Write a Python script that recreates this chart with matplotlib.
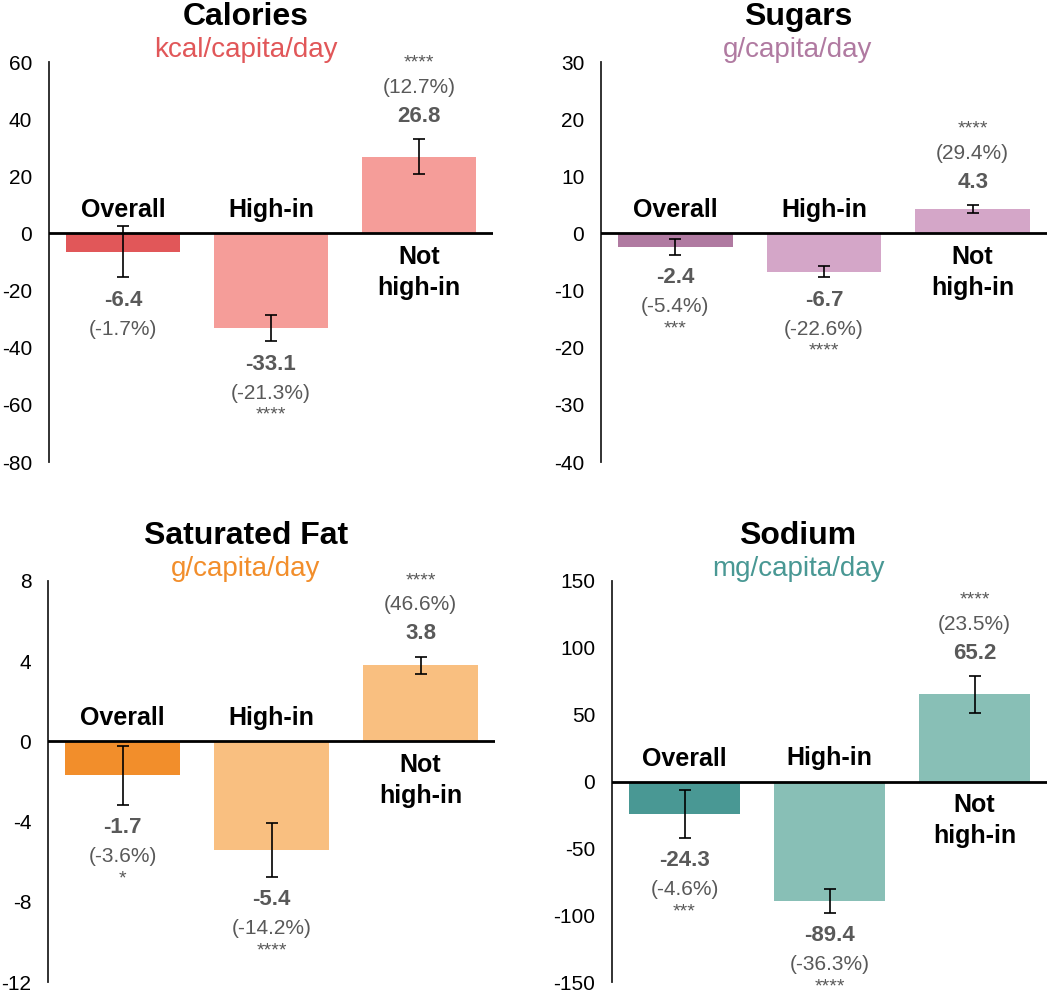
import matplotlib
matplotlib.use("Agg")
import matplotlib.pyplot as plt

plt.rcParams["font.family"] = ["Liberation Sans", "DejaVu Sans"]
plt.rcParams["axes.unicode_minus"] = False

# categories shared by all four panels
groups = ["Overall", "High-in", "Not\nhigh-in"]

# calories
cal_values = [-6.4, -33.1, 26.8]
cal_err = [9.0, 4.6, 6.1]
cal_pct = ["(-1.7%)", "(-21.3%)", "(12.7%)"]
cal_stars = ["", "****", "****"]
cal_ticks = [60, 40, 20, 0, -20, -40, -60, -80]

# sugars
sug_values = [-2.4, -6.7, 4.3]
sug_err = [1.35, 1.0, 0.65]
sug_pct = ["(-5.4%)", "(-22.6%)", "(29.4%)"]
sug_stars = ["***", "****", "****"]
sug_ticks = [30, 20, 10, 0, -10, -20, -30, -40]

# saturated fat
fat_values = [-1.7, -5.4, 3.8]
fat_err = [1.45, 1.35, 0.42]
fat_pct = ["(-3.6%)", "(-14.2%)", "(46.6%)"]
fat_stars = ["*", "****", "****"]
fat_ticks = [8, 4, 0, -4, -8, -12]

# sodium
sod_values = [-24.3, -89.4, 65.2]
sod_err = [17.7, 8.7, 13.7]
sod_pct = ["(-4.6%)", "(-36.3%)", "(23.5%)"]
sod_stars = ["***", "****", "****"]
sod_ticks = [150, 100, 50, 0, -50, -100, -150]

W, H = 1050, 990
GRAY = "#595959"


def draw_panel(fig, box, title, unit, dark, light, values, err, pct, stars, ticks, title_x):
    # box is (left, top, right, bottom) in pixels
    left, top, right, bottom = box
    ax = fig.add_axes([left / W, 1 - bottom / H, (right - left) / W, (bottom - top) / H])

    x = range(len(values))
    colors = [dark, light, light]
    ax.bar(x, values, width=0.77, color=colors, zorder=2)
    ax.errorbar(x, values, yerr=err, fmt="none", ecolor="black",
                elinewidth=1.2, capsize=4, capthick=1.2, zorder=3)
    ax.axhline(0, color="black", lw=2, zorder=4)

    ax.set_xlim(-0.5, 2.5)
    ax.set_ylim(ticks[-1], ticks[0])
    ax.set_yticks(ticks)
    ax.set_xticks([])
    ax.tick_params(axis="y", length=0, labelsize=15, pad=12)
    for s in ["top", "right", "bottom"]:
        ax.spines[s].set_visible(False)
    ax.spines["left"].set_color("#222222")
    ax.spines["left"].set_linewidth(1.3)

    for i, v in enumerate(values):
        sign = 1 if v > 0 else -1
        end = v + sign * err[i]
        ax.annotate(f"{v:.1f}", (i, end), xytext=(0, sign * 23), textcoords="offset pixels",
                    ha="center", va="center", fontsize=16, fontweight="bold", color=GRAY)
        ax.annotate(pct[i], (i, end), xytext=(0, sign * 52), textcoords="offset pixels",
                    ha="center", va="center", fontsize=15, color=GRAY)
        if stars[i]:
            off = 76 if sign > 0 else -74
            ax.annotate(stars[i], (i, end), xytext=(0, off), textcoords="offset pixels",
                        ha="center", va="center", fontsize=14, color=GRAY)
        # category name sits on the opposite side of the zero line
        if v < 0:
            ax.annotate(groups[i], (i, 0), xytext=(0, 11), textcoords="offset pixels",
                        ha="center", va="bottom", fontsize=18, fontweight="bold")
        else:
            ax.annotate(groups[i], (i, 0), xytext=(0, -12), textcoords="offset pixels",
                        ha="center", va="top", fontsize=18, fontweight="bold", linespacing=1.35)

    fig.text(title_x / W, 1 - (top - 37) / H, title, ha="center", va="baseline",
             fontsize=23, fontweight="bold")
    fig.text(title_x / W, 1 - (top - 5) / H, unit, ha="center", va="baseline",
             fontsize=20, color=dark)
    return ax


def main():
    fig = plt.figure(figsize=(W / 100, H / 100), dpi=100)

    draw_panel(fig, (49, 62, 493, 462), "Calories", "kcal/capita/day", "#E15759", "#F59D99",
               cal_values, cal_err, cal_pct, cal_stars, cal_ticks, 246)
    draw_panel(fig, (601, 62, 1047, 462), "Sugars", "g/capita/day", "#B07AA1", "#D4A6C8",
               sug_values, sug_err, sug_pct, sug_stars, sug_ticks, 798)
    draw_panel(fig, (48, 581, 495, 982), "Saturated Fat", "g/capita/day", "#F28E2B", "#F9BF80",
               fat_values, fat_err, fat_pct, fat_stars, fat_ticks, 246)
    draw_panel(fig, (612, 581, 1047, 982), "Sodium", "mg/capita/day", "#499894", "#88BFB6",
               sod_values, sod_err, sod_pct, sod_stars, sod_ticks, 798)

    fig.savefig("out.png", dpi=100)


if __name__ == "__main__":
    main()
